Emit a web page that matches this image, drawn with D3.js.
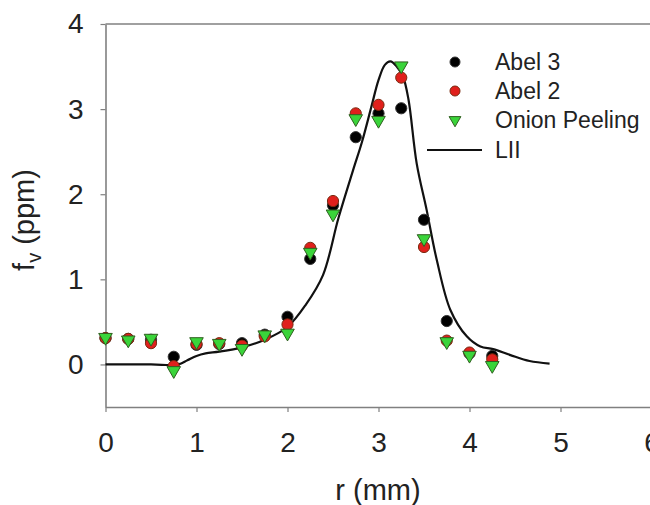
<!DOCTYPE html>
<html>
<head>
<meta charset="utf-8">
<script src="https://cdn.jsdelivr.net/npm/d3@7"></script>
<style>
  html, body { margin: 0; padding: 0; background: #fff; }
  svg { display: block; font-family: "Liberation Sans", Arial, sans-serif; }
</style>
</head>
<body>
<svg id="chart" width="650" height="505"></svg>
<script>
// ---- data ----
const rValues = [0, 0.25, 0.5, 0.75, 1, 1.25, 1.5, 1.75, 2, 2.25, 2.5, 2.75, 3, 3.25, 3.5, 3.75, 4, 4.25];
const abel3   = [0.31, 0.30, 0.29, 0.09, 0.23, 0.24, 0.25, 0.35, 0.56, 1.24, 1.87, 2.67, 2.95, 3.01, 1.70, 0.51, 0.13, 0.10];
const abel2   = [0.31, 0.30, 0.25, -0.02, 0.24, 0.25, 0.22, 0.33, 0.47, 1.37, 1.92, 2.95, 3.05, 3.37, 1.38, 0.28, 0.14, 0.06];
const onion   = [0.33, 0.30, 0.32, -0.06, 0.28, 0.26, 0.20, 0.36, 0.38, 1.33, 1.78, 2.90, 2.88, 3.52, 1.49, 0.28, 0.12, 0.00];
const liiR    = [0, 0.5, 0.8, 0.9, 1.0, 1.1, 1.25, 1.5, 1.75, 2.0, 2.2, 2.39, 2.56, 2.72, 2.82, 2.92, 3.0, 3.07, 3.13, 3.2, 3.27, 3.33, 3.42, 3.53, 3.64, 3.79, 3.97, 4.12, 4.26, 4.45, 4.66, 4.88];
const liiF    = [0, 0, 0, 0.05, 0.10, 0.13, 0.15, 0.20, 0.29, 0.44, 0.70, 1.05, 1.72, 2.28, 2.62, 3.02, 3.34, 3.52, 3.56, 3.50, 3.38, 3.11, 2.36, 1.81, 1.23, 0.64, 0.33, 0.21, 0.18, 0.11, 0.04, 0.01];
const xTicks  = [0, 1, 2, 3, 4, 5, 6];
const yTicks  = [0, 1, 2, 3, 4];
const legendLabels = ["Abel 3", "Abel 2", "Onion Peeling", "LII"];

// ---- layout ----
const svg = d3.select("#chart");
const x = d3.scaleLinear().domain([0, 6]).range([105.5, 651.5]);
const y = d3.scaleLinear().domain([-0.5, 4]).range([407, 24]);
const axisColor = "#808080";

// frame: top line
svg.append("line")
  .attr("x1", x(0)).attr("x2", x(6)).attr("y1", y(4)).attr("y2", y(4))
  .attr("stroke", axisColor).attr("stroke-width", 1.6);

const xAxis = svg.append("g")
  .attr("transform", `translate(0,${y(-0.5)})`)
  .call(d3.axisBottom(x).tickValues(xTicks).tickFormat(d3.format("d")).tickSize(5).tickPadding(20).tickSizeOuter(0));
const yAxis = svg.append("g")
  .attr("transform", `translate(${x(0)},0)`)
  .call(d3.axisLeft(y).tickValues(yTicks).tickFormat(d3.format("d")).tickSize(5).tickPadding(17).tickSizeOuter(0));

[xAxis, yAxis].forEach(g => {
  g.select(".domain").attr("stroke", axisColor).attr("stroke-width", 1.6);
  g.selectAll(".tick line").attr("stroke", axisColor).attr("stroke-width", 1.2);
  g.selectAll(".tick text").attr("fill", "#222").style("font-size", "28px")
    .style("font-family", "'Liberation Sans', Arial, sans-serif");
});

// axis titles
svg.append("text")
  .attr("x", 378).attr("y", 500)
  .attr("text-anchor", "middle")
  .style("font-size", "29px").attr("fill", "#222")
  .text("r (mm)");

const yt = svg.append("text")
  .attr("transform", "translate(34,220) rotate(-90)")
  .attr("text-anchor", "middle")
  .style("font-size", "29px").attr("fill", "#222");
yt.append("tspan").text("f");
yt.append("tspan").attr("dy", 7).style("font-size", "20px").text("v");
yt.append("tspan").attr("dy", -7).text(" (ppm)");

// LII line
const line = d3.line().x(d => x(d[0])).y(d => y(d[1])).curve(d3.curveCatmullRom.alpha(0.5));
svg.append("path")
  .datum(liiR.map((r, i) => [r, liiF[i]]))
  .attr("d", line)
  .attr("fill", "none").attr("stroke", "#111").attr("stroke-width", 2.2);

// markers
const tri = d3.symbol().type(d3.symbolTriangle).size(80);
function drawCircles(vals, fill, stroke) {
  svg.append("g").selectAll("circle")
    .data(rValues.map((r, i) => [r, vals[i]]))
    .join("circle")
    .attr("cx", d => x(d[0])).attr("cy", d => y(d[1]))
    .attr("r", 5.6)
    .attr("fill", fill).attr("stroke", stroke).attr("stroke-width", 1);
}
drawCircles(abel3, "#000", "#333");
drawCircles(abel2, "#e0201c", "#7a2a10");
svg.append("g").selectAll("path")
  .data(rValues.map((r, i) => [r, onion[i]]))
  .join("path")
  .attr("d", tri)
  .attr("transform", d => `translate(${x(d[0])},${y(d[1]) + 1}) rotate(180)`)
  .attr("fill", "#3ad43a").attr("stroke", "#2f5f1f").attr("stroke-width", 1);

// legend
const lg = svg.append("g");
const rowsY = [62, 91, 120, 150];
lg.append("circle").attr("cx", 455).attr("cy", rowsY[0]).attr("r", 5).attr("fill", "#000").attr("stroke", "#333");
lg.append("circle").attr("cx", 455).attr("cy", rowsY[1]).attr("r", 5).attr("fill", "#e0201c").attr("stroke", "#7a2a10");
lg.append("path").attr("d", d3.symbol().type(d3.symbolTriangle).size(60)())
  .attr("transform", `translate(455,${rowsY[2]}) rotate(180)`)
  .attr("fill", "#3ad43a").attr("stroke", "#2f5f1f");
lg.append("line").attr("x1", 427).attr("x2", 482).attr("y1", rowsY[3]).attr("y2", rowsY[3])
  .attr("stroke", "#111").attr("stroke-width", 2.2);
lg.selectAll("text").data(legendLabels).join("text")
  .attr("x", 495).attr("y", (d, i) => rowsY[i])
  .attr("dy", "0.35em")
  .style("font-size", "23px").attr("fill", "#222")
  .text(d => d);
</script>
</body>
</html>
